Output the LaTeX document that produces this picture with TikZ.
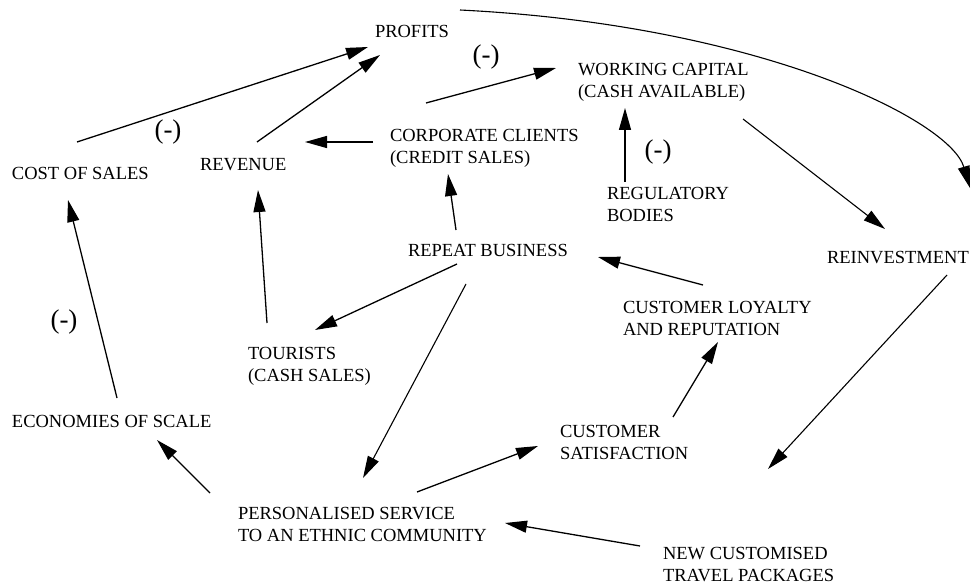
\documentclass[tikz,border=0pt]{standalone}
\usepackage{fontspec}
\setmainfont{Liberation Serif}
\usetikzlibrary{arrows.meta}
\begin{document}
\begin{tikzpicture}[x=1pt,y=-1pt,
  lab/.style={inner sep=0pt,outer sep=0pt,anchor=north west,align=left,
    font=\fontsize{18.5}{22}\selectfont},
  neg/.style={inner sep=0pt,font=\fontsize{27}{30}\selectfont},
  arr/.style={line width=1.3pt,-{Triangle[length=22pt,width=12pt]}},
  thin arr/.style={line width=1.1pt,-{Triangle[length=22pt,width=12pt]}}]
\useasboundingbox (0,0) rectangle (971,585);
% nodes
\node[lab] (profits) at (375,25) {PROFITS};
\node[lab] (wc) at (578,63) {WORKING CAPITAL\\(CASH AVAILABLE)};
\node[lab] (corp) at (390,129) {CORPORATE CLIENTS\\(CREDIT SALES)};
\node[lab] (cost) at (12,167) {COST OF SALES};
\node[lab] (rev) at (200,158) {REVENUE};
\node[lab] (reg) at (607,187) {REGULATORY\\BODIES};
\node[lab] (rep) at (408,244) {REPEAT BUSINESS};
\node[lab] (reinv) at (827,251) {REINVESTMENT};
\node[lab] (loy) at (623,301) {CUSTOMER LOYALTY\\AND REPUTATION};
\node[lab] (tour) at (248,347) {TOURISTS\\(CASH SALES)};
\node[lab] (econ) at (12,415) {ECONOMIES OF SCALE};
\node[lab] (sat) at (560,425) {CUSTOMER\\SATISFACTION};
\node[lab] (pers) at (238,507) {PERSONALISED SERVICE\\TO AN ETHNIC COMMUNITY};
\node[lab] (new) at (663,547) {NEW CUSTOMISED\\TRAVEL PACKAGES};
% negative signs
\node[neg] (n1) at (486,57) {(-)};
\node[neg] (n2) at (168,132) {(-)};
\node[neg] (n3) at (658,152) {(-)};
\node[neg] (n4) at (64,322) {(-)};
% connectors
\draw[arr] ([shift={(65,-25)}]cost.north west) -- ([shift={(-7,22)}]profits.north west);
\draw[arr] ([shift={(57,-16)}]rev.north west) -- ([shift={(5,30)}]profits.north west);
\draw[arr] ([shift={(-17,13)}]corp.north west) -- ([shift={(105,-16)}]rev.north west);
\draw[arr] ([shift={(36,-26)}]corp.north west) -- ([shift={(-22,5)}]wc.north west);
\draw[arr] ([shift={(18,-5)}]reg.north west) -- ([shift={(47,45)}]wc.north west);
\draw[thin arr] ([shift={(165,56)}]wc.north west) -- ([shift={(58,-22)}]reinv.north west);
\draw[thin arr] ([shift={(85,-15)}]profits.north west) .. controls (760,25) and (950,120) .. ([shift={(143,-63)}]reinv.north west);
\draw[arr] ([shift={(48,-14)}]rep.north west) -- ([shift={(58,45)}]corp.north west);
\draw[arr] ([shift={(19,-24)}]tour.north west) -- ([shift={(58,32)}]rev.north west);
\draw[arr] ([shift={(49,20)}]rep.north west) -- ([shift={(67,-17)}]tour.north west);
\draw[thin arr] ([shift={(58,40)}]rep.north west) -- ([shift={(125,-29)}]pers.north west);
\draw[arr] ([shift={(80,-16)}]loy.north west) -- ([shift={(190,13)}]rep.north west);
\draw[arr] ([shift={(113,-8)}]sat.north west) -- ([shift={(95,41)}]loy.north west);
\draw[arr] ([shift={(179,-15)}]pers.north west) -- ([shift={(-22,21)}]sat.north west);
\draw[arr] ([shift={(-23,-1)}]new.north west) -- ([shift={(267,16)}]pers.north west);
\draw[thin arr] ([shift={(120,24)}]reinv.north west) -- ([shift={(105,-78)}]new.north west);
\draw[arr] ([shift={(105,-17)}]econ.north west) -- ([shift={(56,33)}]cost.north west);
\draw[arr] ([shift={(-28,-14)}]pers.north west) -- ([shift={(145,25)}]econ.north west);
\end{tikzpicture}
\end{document}
